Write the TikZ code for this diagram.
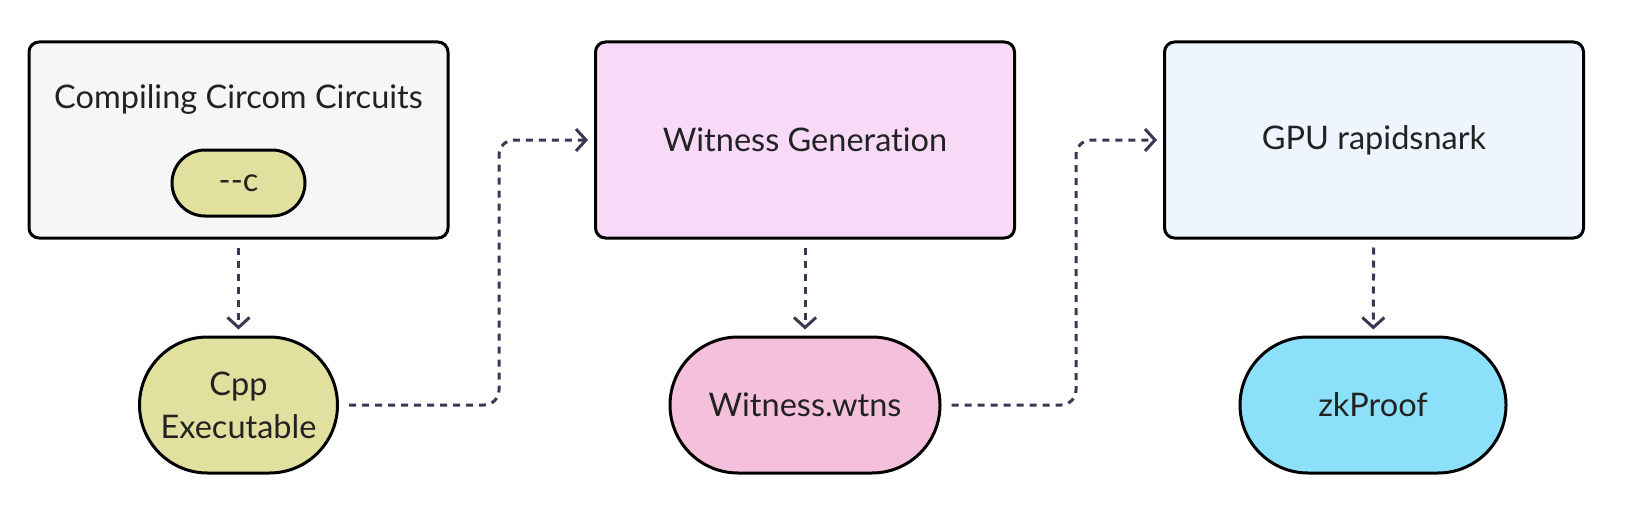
\documentclass[tikz,border=0pt]{standalone}
\usepackage{fontspec}
\setmainfont{Lato}[RawFeature=-liga]
\usetikzlibrary{arrows.meta}
\definecolor{boxgray}{HTML}{F5F7F6}
\definecolor{boxpink}{HTML}{F8DAF8}
\definecolor{boxblue}{HTML}{EEF5FE}
\definecolor{pillyellow}{HTML}{E1E09F}
\definecolor{pillpink}{HTML}{F4C0DC}
\definecolor{pillcyan}{HTML}{8DE0F9}
\definecolor{linkcol}{HTML}{3B3755}
\definecolor{txt}{HTML}{222222}
\begin{document}
\begin{tikzpicture}[x=1pt,y=-1pt,>={Straight Barb[length=10pt,width=22pt]},
  font=\fontsize{32.5}{43}\selectfont, text=txt,
  box/.style={draw=black, line width=3pt, rounded corners=10pt, minimum width=419pt, minimum height=196pt, inner sep=0pt},
  pill/.style={draw=black, line width=3pt, rounded corners=68pt, minimum height=136pt, inner sep=0pt, align=center},
  flow/.style={->, draw=linkcol, line width=3pt, dash pattern=on 7pt off 6pt, rounded corners=15pt}]
\useasboundingbox (0,0) rectangle (1640,508);
% stages
\node[box, fill=boxgray] (comp) at (238.5,140) {};
\node (comptitle) at (238.5,99) {Compiling Circom Circuits};
\node[pill, fill=pillyellow, minimum width=133pt, minimum height=66pt, rounded corners=33pt] (cflag) at (238.5,183) {-{}-c};
\node[box, fill=boxpink] (witgen) at (805,140) {Witness Generation};
\node[box, fill=boxblue] (gpu) at (1374,140) {GPU rapidsnark};
% outputs
\node[pill, fill=pillyellow, minimum width=198pt] (cpp) at (238.5,405) {Cpp\\Executable};
\node[pill, fill=pillpink, minimum width=270pt] (wtns) at (805,405) {Witness.wtns};
\node[pill, fill=pillcyan, minimum width=266pt] (proof) at (1373,405) {zkProof};
% links
\draw[flow, shorten <=8pt, shorten >=6pt] (comp) -- (cpp);
\draw[flow, shorten <=8pt, shorten >=6pt] (witgen) -- (wtns);
\draw[flow, shorten <=8pt, shorten >=6pt] (gpu) -- (proof);
\draw[flow, shorten <=10pt, shorten >=6pt] (cpp.east) -| ([xshift=-95pt]witgen.west) -- (witgen.west);
\draw[flow, shorten <=10pt, shorten >=6pt] (wtns.east) -| ([xshift=-87pt]gpu.west) -- (gpu.west);
\end{tikzpicture}
\end{document}
